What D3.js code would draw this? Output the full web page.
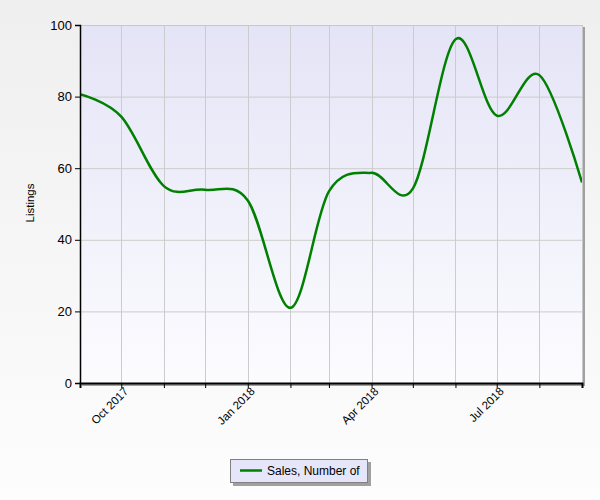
<!DOCTYPE html>
<html><head><meta charset="utf-8">
<script src="https://cdn.jsdelivr.net/npm/d3@7"></script>
<style>html,body{margin:0;padding:0;}svg{display:block;}</style>
</head><body>
<script>
const months = ["2017-09-01","2017-10-01","2017-11-01","2017-12-01","2018-01-01","2018-02-01","2018-03-01","2018-04-01","2018-05-01","2018-06-01","2018-07-01","2018-08-01","2018-09-01"];
const sales = [80.7, 74.4, 55, 54, 51, 21, 53.5, 58.7, 54.3, 96, 74.7, 86, 56];
const labeledMonths = ["2017-10-01","2018-01-01","2018-04-01","2018-07-01"];
const yTicks = [0,20,40,60,80,100];
const seriesName = "Sales, Number of";
const yTitle = "Listings";

const W=600,H=500, L=80, R=582, T=25, B=383;
const parse = d3.utcParse("%Y-%m-%d");
const data = months.map((m,i)=>({d:parse(m), v:sales[i]}));

const svg = d3.select("body").append("svg").attr("width",W).attr("height",H);
const defs = svg.append("defs");
const bg = defs.append("linearGradient").attr("id","bg").attr("x1",0).attr("y1",0).attr("x2",0).attr("y2",1);
bg.append("stop").attr("offset","0%").attr("stop-color","#efefef");
bg.append("stop").attr("offset","100%").attr("stop-color","#fdfdfd");
const pg = defs.append("linearGradient").attr("id","pg").attr("x1",0).attr("y1",0).attr("x2",0).attr("y2",1);
pg.append("stop").attr("offset","0%").attr("stop-color","#e4e4f7");
pg.append("stop").attr("offset","100%").attr("stop-color","#fcfcff");

svg.append("rect").attr("width",W).attr("height",H).attr("fill","url(#bg)");

const x = d3.scaleUtc().domain([parse(months[0]), parse(months[months.length-1])]).range([L,R]);
const y = d3.scaleLinear().domain([0,100]).range([B,T]);

// shadow
svg.append("rect").attr("x",L+2).attr("y",T+2).attr("width",R-L+1).attr("height",B-T+1).attr("fill","#a0a0a0");
svg.append("rect").attr("x",L).attr("y",T).attr("width",R-L).attr("height",B-T).attr("fill","url(#pg)");

// grid
svg.append("g").selectAll("line").data(yTicks).join("line")
  .attr("x1",L).attr("x2",R).attr("y1",d=>y(d)+0.5).attr("y2",d=>y(d)+0.5)
  .attr("stroke","#cccccc").attr("stroke-width",1);
svg.append("g").selectAll("line").data(data.slice(1,-1)).join("line")
  .attr("y1",T).attr("y2",B).attr("x1",d=>Math.round(x(d.d))+0.5).attr("x2",d=>Math.round(x(d.d))+0.5)
  .attr("stroke","#cccccc").attr("stroke-width",1);
// border
svg.append("rect").attr("x",L+0.5).attr("y",T+0.5).attr("width",R-L).attr("height",B-T)
  .attr("fill","none").attr("stroke","#c8c8c8");

// line
const line = d3.line().x(d=>x(d.d)).y(d=>y(d.v)).curve(d3.curveCardinal.tension(0));
const clip = defs.append("clipPath").attr("id","clip");
clip.append("rect").attr("x",L).attr("y",T-10).attr("width",R-L).attr("height",B-T+10);
svg.append("path").datum(data).attr("d",line).attr("fill","none")
  .attr("stroke","#008000").attr("stroke-width",2.5).attr("clip-path","url(#clip)");

// axes
const fontFam = "'Liberation Sans', Arial, sans-serif";
const yAxis = d3.axisLeft(y).tickValues(yTicks).tickSize(5).tickPadding(3);
const gy = svg.append("g").attr("transform",`translate(${L},0)`).call(yAxis);
gy.select(".domain").attr("stroke","#000").attr("stroke-width",1.5);
gy.selectAll(".tick line").attr("stroke","#000");
gy.selectAll("text").attr("font-family",fontFam).attr("font-size",13).attr("fill","#000");

const xAxis = d3.axisBottom(x).tickValues(data.map(d=>d.d)).tickSize(5)
  .tickFormat(d=> labeledMonths.includes(d3.utcFormat("%Y-%m-%d")(d)) ? d3.utcFormat("%b %Y")(d) : "");
const gx = svg.append("g").attr("transform",`translate(0,${B})`).call(xAxis);
gx.select(".domain").attr("stroke","#000").attr("stroke-width",2);
gx.selectAll(".tick line").attr("stroke","#000");
gx.selectAll("text").attr("font-family",fontFam).attr("font-size",11.5).attr("fill","#000")
  .attr("text-anchor","end").attr("transform","translate(3,2) rotate(-45)").attr("dy","0.35em").attr("y",4).attr("x",-2);

// y title
svg.append("text").attr("transform",`translate(34,203) rotate(-90)`).attr("text-anchor","middle")
  .attr("font-family",fontFam).attr("font-size",11.5).attr("fill","#000").text(yTitle);

// legend
const lg = svg.append("g");
lg.append("rect").attr("x",233).attr("y",462).attr("width",138).attr("height",24).attr("fill","#a0a0a0");
lg.append("rect").attr("x",230.5).attr("y",459.5).attr("width",137).attr("height",23).attr("fill","#e6e6fa").attr("stroke","#808080");
lg.append("line").attr("x1",240).attr("x2",262).attr("y1",470.5).attr("y2",470.5).attr("stroke","#008000").attr("stroke-width",2.5);
lg.append("text").attr("x",267).attr("y",475).attr("font-family",fontFam).attr("font-size",12).attr("fill","#000").text(seriesName);
</script>
</body></html>
